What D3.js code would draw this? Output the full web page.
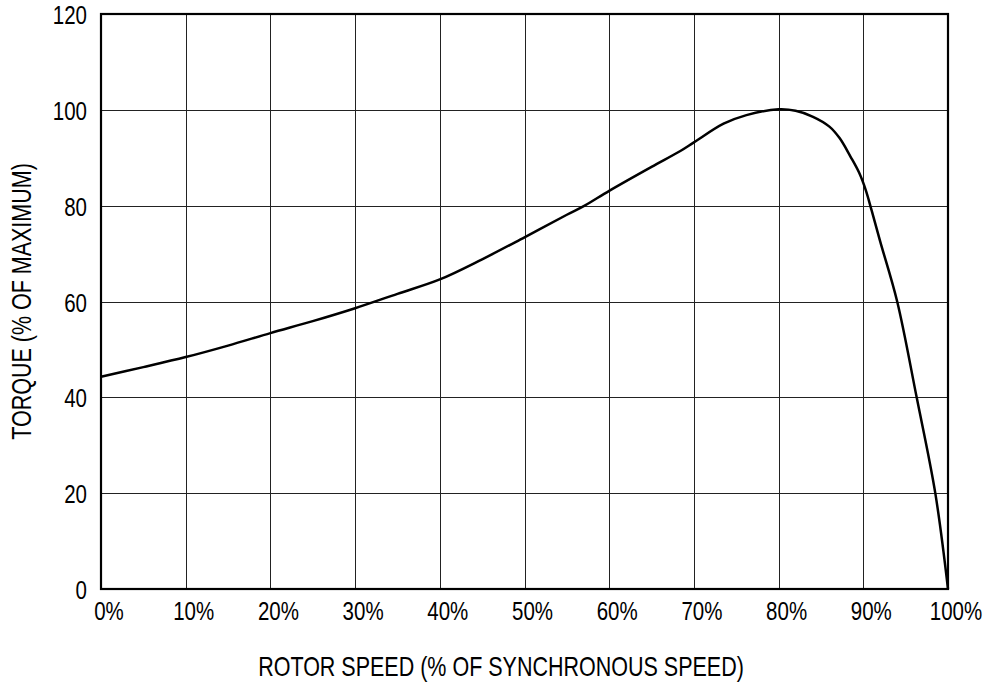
<!DOCTYPE html>
<html><head><meta charset="utf-8">
<script src="https://cdn.jsdelivr.net/npm/d3@7"></script>
<style>body{margin:0;background:#fff}svg{display:block}text{font-family:"Liberation Sans",Arial,sans-serif;fill:#000}</style>
</head><body>
<svg id="chart" width="989" height="686"></svg>
<script>
const speed  = [0, 5, 10, 15, 20, 25, 30, 35, 40, 45, 50, 55, 57.1, 60, 65, 68.4, 70, 73.5, 76.2, 80, 82, 84, 86, 87.2, 88.5, 89.5, 90.3, 91, 92, 94, 96.3, 98.5, 100];
const torque = [44.3, 46.3, 48.4, 50.8, 53.4, 55.9, 58.6, 61.6, 64.6, 68.8, 73.4, 78.1, 80, 83.1, 88.1, 91.4, 93.2, 97.1, 98.9, 100.1, 99.8, 98.6, 96.5, 94.1, 90.2, 86.9, 83.2, 78.9, 72.5, 60, 40, 20, 0];
const xTicks = [0, 10, 20, 30, 40, 50, 60, 70, 80, 90, 100];
const yTicks = [0, 20, 40, 60, 80, 100, 120];
const xTitle = "ROTOR SPEED (% OF SYNCHRONOUS SPEED)";
const yTitle = "TORQUE (% OF MAXIMUM)";

const L = 101, R = 948, T = 14, B = 589;
const FS = 20.5, SY = 1.25;
const svg = d3.select("#chart");
const x = d3.scaleLinear().domain([0, 100]).range([L, R]);
const y = d3.scaleLinear().domain([0, 120]).range([B, T]);

// grid
const g = svg.append("g");
g.selectAll("line.v").data(xTicks.slice(1, -1)).enter().append("line")
  .attr("x1", d => Math.round(x(d)) + 0.5).attr("x2", d => Math.round(x(d)) + 0.5)
  .attr("y1", T).attr("y2", B).attr("stroke", "#222").attr("stroke-width", 1);
g.selectAll("line.h").data(yTicks.slice(1, -1)).enter().append("line")
  .attr("y1", d => Math.round(y(d)) + 0.5).attr("y2", d => Math.round(y(d)) + 0.5)
  .attr("x1", L).attr("x2", R).attr("stroke", "#222").attr("stroke-width", 1);

// curve
const line = d3.line().x((d, i) => x(speed[i])).y(d => y(d)).curve(d3.curveCatmullRom.alpha(0.5));
svg.append("path").datum(torque).attr("d", line)
  .attr("fill", "none").attr("stroke", "#000").attr("stroke-width", 2.5).attr("stroke-linejoin", "round");

// frame
svg.append("rect").attr("x", L).attr("y", T).attr("width", R - L).attr("height", B - T)
  .attr("fill", "none").attr("stroke", "#000").attr("stroke-width", 2.2);

// tick labels (tall, narrow lettering)
svg.selectAll("text.xt").data(xTicks).enter().append("text")
  .attr("transform", d => `translate(${x(d) + 8},620) scale(1,${SY})`).attr("text-anchor", "middle")
  .attr("font-size", FS).text(d => d + "%");
svg.selectAll("text.yt").data(yTicks).enter().append("text")
  .attr("transform", d => `translate(87,${y(d) + 10}) scale(1,${SY})`).attr("text-anchor", "end")
  .attr("font-size", FS).text(d => d);

svg.append("text").attr("transform", `translate(501,676) scale(1,${SY})`).attr("text-anchor", "middle")
  .attr("font-size", 21.5).text(xTitle);
svg.append("text").attr("transform", `translate(31,${(T + B) / 2}) rotate(-90) scale(1,${SY})`)
  .attr("text-anchor", "middle").attr("font-size", 21.5).text(yTitle);
</script>
</body></html>
